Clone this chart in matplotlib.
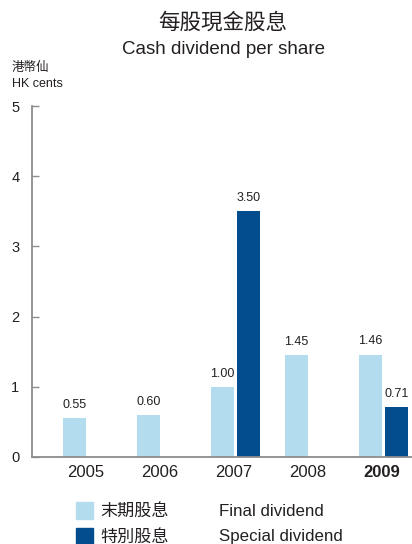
import matplotlib
matplotlib.use('Agg')
import matplotlib.pyplot as plt
import numpy as np
from matplotlib.patches import Rectangle

plt.rcParams['font.family'] = ['Liberation Sans', 'Noto Sans CJK TC']

years = ['2005', '2006', '2007', '2008', '2009']
final_div = [0.55, 0.60, 1.00, 1.45, 1.46]
special_div = [None, None, 3.50, None, 0.71]

light = '#b3dcef'
dark = '#034c8e'
grey = '#8c8c8c'
txt = '#231f20'

fig = plt.figure(figsize=(4.12, 5.44), dpi=100)
ax = fig.add_axes([32 / 412, 1 - 457 / 544, 1 - 32 / 412, (457 - 106) / 544])

x = np.arange(len(years))
w = 0.31
off = 0.175
ax.bar(x - off, final_div, w, color=light)
for xi, v in zip(x, final_div):
    ax.text(xi - off, v + 0.1, f'{v:.2f}', ha='center', va='bottom', fontsize=9, color=txt)
for xi, v in zip(x, special_div):
    if v is None:
        continue
    ax.bar(xi + off, v, w, color=dark)
    ax.text(xi + off, v + 0.1, f'{v:.2f}', ha='center', va='bottom', fontsize=9, color=txt)

ax.set_xlim(-0.75, 4.385)
ax.set_ylim(0, 5)
ax.set_yticks(range(6))
ax.set_xticks(x - 0.03)
ax.set_xticklabels(years, fontsize=12, color=txt)
ax.get_xticklabels()[-1].set_fontweight('bold')
ax.tick_params(axis='x', length=0, pad=6)
ax.tick_params(axis='y', direction='in', length=5, color=grey, width=1, labelsize=10.5,
               labelcolor=txt, pad=9)
for s in ['top', 'right']:
    ax.spines[s].set_visible(False)
for s in ['left', 'bottom']:
    ax.spines[s].set_color(grey)
    ax.spines[s].set_linewidth(1.3)

fig.text(223 / 412, 1 - 23 / 544, '每股現金股息', ha='center', va='center', fontsize=15.5, color=txt)
fig.text(223 / 412, 1 - 49 / 544, 'Cash dividend per share', ha='center', va='center', fontsize=13.5, color=txt)
fig.text(12 / 412, 1 - 68 / 544, '港幣仙', ha='left', va='center', fontsize=9, color=txt)
fig.text(12 / 412, 1 - 84 / 544, 'HK cents', ha='left', va='center', fontsize=9, color=txt)

# legend
legend = [(light, '末期股息', 'Final dividend'), (dark, '特別股息', 'Special dividend')]
for i, (c, zh, en) in enumerate(legend):
    yc = 511 + i * 26
    fig.patches.append(Rectangle((76 / 412, 1 - (yc + 8) / 544), 17 / 412, 17 / 544,
                                 color=c, transform=fig.transFigure))
    fig.text(100 / 412, 1 - yc / 544, zh, ha='left', va='center', fontsize=12.3, color=txt)
    fig.text(219 / 412, 1 - yc / 544, en, ha='left', va='center', fontsize=12.2, color=txt)

fig.savefig('out.png', dpi=100)
